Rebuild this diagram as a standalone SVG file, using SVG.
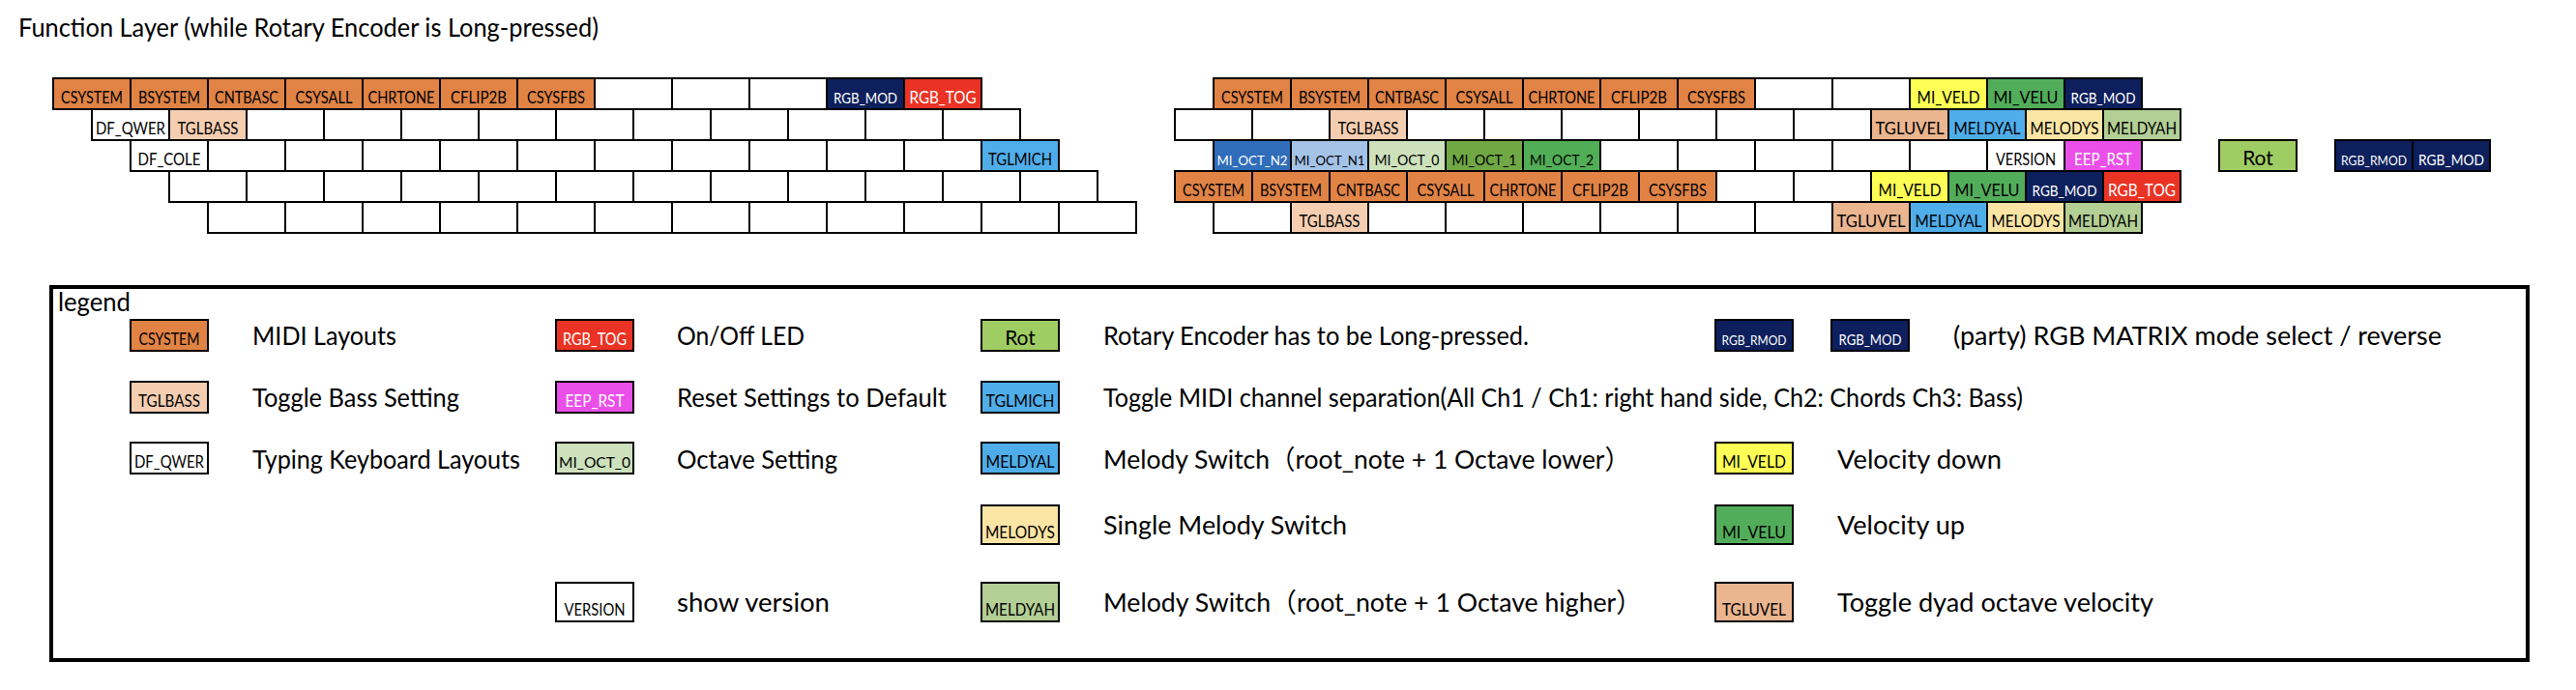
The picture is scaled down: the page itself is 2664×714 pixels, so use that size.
<svg xmlns="http://www.w3.org/2000/svg" xmlns:xlink="http://www.w3.org/1999/xlink" width="2664" height="714" viewBox="0 0 2664 714">
<style>
.k{stroke:#000;stroke-width:2}
.wh{fill:#fff}.or{fill:#E08345}.nv{fill:#0D1F5C}.rd{fill:#EA3324}.pc{fill:#F5CEB1}.bl{fill:#4FADEA}
.db{fill:#2F6DBA}.lb{fill:#A5C3E7}.lg{fill:#CDE1BC}.mg{fill:#70A845}.gg{fill:#52AE56}.ye{fill:#FFFF55}
.gr{fill:#52AD5B}.tn{fill:#EAB58F}.my{fill:#FBE5A5}.mh{fill:#B3CF95}.ep{fill:#EA4FEA}.ro{fill:#A0CD63}
text{font-family:Lato,"Noto Sans CJK JP",sans-serif;fill:#000}
.t{font-size:17.5px;text-anchor:middle}
.tn2{font-size:14px;text-anchor:middle}
.to{font-size:16px;text-anchor:middle}
.ts{font-size:15.5px;text-anchor:middle}
.tx{font-size:13.5px;text-anchor:middle}
.tr{font-size:21px;text-anchor:middle}
.w{fill:#fff}
.d{font-size:27.5px}
.frame{fill:none;stroke:#000;stroke-width:4}
</style>
<defs>
<rect id="kb" width="80" height="32" class="k wh"/>
</defs>
<rect width="2664" height="714" fill="#fff"/>
<text id="title" x="19" y="38" class="d" textLength="600" lengthAdjust="spacingAndGlyphs">Function Layer (while Rotary Encoder is Long-pressed)</text>

<g id="left-keyboard">
<g id="L1-1" transform="translate(55,81)"><rect class="k or" width="80" height="32"/><text class="t" x="40" y="25.5" textLength="64" lengthAdjust="spacingAndGlyphs">CSYSTEM</text></g>
<g id="L1-2" transform="translate(135,81)"><rect class="k or" width="80" height="32"/><text class="t" x="40" y="25.5" textLength="64" lengthAdjust="spacingAndGlyphs">BSYSTEM</text></g>
<g id="L1-3" transform="translate(215,81)"><rect class="k or" width="80" height="32"/><text class="t" x="40" y="25.5" textLength="66" lengthAdjust="spacingAndGlyphs">CNTBASC</text></g>
<g id="L1-4" transform="translate(295,81)"><rect class="k or" width="80" height="32"/><text class="t" x="40" y="25.5" textLength="59" lengthAdjust="spacingAndGlyphs">CSYSALL</text></g>
<g id="L1-5" transform="translate(375,81)"><rect class="k or" width="80" height="32"/><text class="t" x="40" y="25.5" textLength="69" lengthAdjust="spacingAndGlyphs">CHRTONE</text></g>
<g id="L1-6" transform="translate(455,81)"><rect class="k or" width="80" height="32"/><text class="t" x="40" y="25.5" textLength="58" lengthAdjust="spacingAndGlyphs">CFLIP2B</text></g>
<g id="L1-7" transform="translate(535,81)"><rect class="k or" width="80" height="32"/><text class="t" x="40" y="25.5" textLength="60" lengthAdjust="spacingAndGlyphs">CSYSFBS</text></g>
<use id="L1-8" xlink:href="#kb" x="615" y="81"/>
<use id="L1-9" xlink:href="#kb" x="695" y="81"/>
<use id="L1-10" xlink:href="#kb" x="775" y="81"/>
<g id="L1-11" transform="translate(855,81)"><rect class="k nv" width="80" height="32"/><text class="ts w" x="40" y="25.5" textLength="66" lengthAdjust="spacingAndGlyphs">RGB_MOD</text></g>
<g id="L1-12" transform="translate(935,81)"><rect class="k rd" width="80" height="32"/><text class="t w" x="40" y="25.5" textLength="69" lengthAdjust="spacingAndGlyphs">RGB_TOG</text></g>
<g id="L2-1" transform="translate(95,113)"><rect class="k wh" width="80" height="32"/><text class="t" x="40" y="25.5" textLength="72" lengthAdjust="spacingAndGlyphs">DF_QWER</text></g>
<g id="L2-2" transform="translate(175,113)"><rect class="k pc" width="80" height="32"/><text class="t" x="40" y="25.5" textLength="63" lengthAdjust="spacingAndGlyphs">TGLBASS</text></g>
<use id="L2-3" xlink:href="#kb" x="255" y="113"/>
<use id="L2-4" xlink:href="#kb" x="335" y="113"/>
<use id="L2-5" xlink:href="#kb" x="415" y="113"/>
<use id="L2-6" xlink:href="#kb" x="495" y="113"/>
<use id="L2-7" xlink:href="#kb" x="575" y="113"/>
<use id="L2-8" xlink:href="#kb" x="655" y="113"/>
<use id="L2-9" xlink:href="#kb" x="735" y="113"/>
<use id="L2-10" xlink:href="#kb" x="815" y="113"/>
<use id="L2-11" xlink:href="#kb" x="895" y="113"/>
<use id="L2-12" xlink:href="#kb" x="975" y="113"/>
<g id="L3-1" transform="translate(135,145)"><rect class="k wh" width="80" height="32"/><text class="t" x="40" y="25.5" textLength="65" lengthAdjust="spacingAndGlyphs">DF_COLE</text></g>
<use id="L3-2" xlink:href="#kb" x="215" y="145"/>
<use id="L3-3" xlink:href="#kb" x="295" y="145"/>
<use id="L3-4" xlink:href="#kb" x="375" y="145"/>
<use id="L3-5" xlink:href="#kb" x="455" y="145"/>
<use id="L3-6" xlink:href="#kb" x="535" y="145"/>
<use id="L3-7" xlink:href="#kb" x="615" y="145"/>
<use id="L3-8" xlink:href="#kb" x="695" y="145"/>
<use id="L3-9" xlink:href="#kb" x="775" y="145"/>
<use id="L3-10" xlink:href="#kb" x="855" y="145"/>
<use id="L3-11" xlink:href="#kb" x="935" y="145"/>
<g id="L3-12" transform="translate(1015,145)"><rect class="k bl" width="80" height="32"/><text class="t" x="40" y="25.5" textLength="66" lengthAdjust="spacingAndGlyphs">TGLMICH</text></g>
<use id="L4-1" xlink:href="#kb" x="175" y="177"/>
<use id="L4-2" xlink:href="#kb" x="255" y="177"/>
<use id="L4-3" xlink:href="#kb" x="335" y="177"/>
<use id="L4-4" xlink:href="#kb" x="415" y="177"/>
<use id="L4-5" xlink:href="#kb" x="495" y="177"/>
<use id="L4-6" xlink:href="#kb" x="575" y="177"/>
<use id="L4-7" xlink:href="#kb" x="655" y="177"/>
<use id="L4-8" xlink:href="#kb" x="735" y="177"/>
<use id="L4-9" xlink:href="#kb" x="815" y="177"/>
<use id="L4-10" xlink:href="#kb" x="895" y="177"/>
<use id="L4-11" xlink:href="#kb" x="975" y="177"/>
<use id="L4-12" xlink:href="#kb" x="1055" y="177"/>
<use id="L5-1" xlink:href="#kb" x="215" y="209"/>
<use id="L5-2" xlink:href="#kb" x="295" y="209"/>
<use id="L5-3" xlink:href="#kb" x="375" y="209"/>
<use id="L5-4" xlink:href="#kb" x="455" y="209"/>
<use id="L5-5" xlink:href="#kb" x="535" y="209"/>
<use id="L5-6" xlink:href="#kb" x="615" y="209"/>
<use id="L5-7" xlink:href="#kb" x="695" y="209"/>
<use id="L5-8" xlink:href="#kb" x="775" y="209"/>
<use id="L5-9" xlink:href="#kb" x="855" y="209"/>
<use id="L5-10" xlink:href="#kb" x="935" y="209"/>
<use id="L5-11" xlink:href="#kb" x="1015" y="209"/>
<use id="L5-12" xlink:href="#kb" x="1095" y="209"/>
</g>

<g id="right-keyboard">
<g id="R1-1" transform="translate(1255,81)"><rect class="k or" width="80" height="32"/><text class="t" x="40" y="25.5" textLength="64" lengthAdjust="spacingAndGlyphs">CSYSTEM</text></g>
<g id="R1-2" transform="translate(1335,81)"><rect class="k or" width="80" height="32"/><text class="t" x="40" y="25.5" textLength="64" lengthAdjust="spacingAndGlyphs">BSYSTEM</text></g>
<g id="R1-3" transform="translate(1415,81)"><rect class="k or" width="80" height="32"/><text class="t" x="40" y="25.5" textLength="66" lengthAdjust="spacingAndGlyphs">CNTBASC</text></g>
<g id="R1-4" transform="translate(1495,81)"><rect class="k or" width="80" height="32"/><text class="t" x="40" y="25.5" textLength="59" lengthAdjust="spacingAndGlyphs">CSYSALL</text></g>
<g id="R1-5" transform="translate(1575,81)"><rect class="k or" width="80" height="32"/><text class="t" x="40" y="25.5" textLength="69" lengthAdjust="spacingAndGlyphs">CHRTONE</text></g>
<g id="R1-6" transform="translate(1655,81)"><rect class="k or" width="80" height="32"/><text class="t" x="40" y="25.5" textLength="58" lengthAdjust="spacingAndGlyphs">CFLIP2B</text></g>
<g id="R1-7" transform="translate(1735,81)"><rect class="k or" width="80" height="32"/><text class="t" x="40" y="25.5" textLength="60" lengthAdjust="spacingAndGlyphs">CSYSFBS</text></g>
<use id="R1-8" xlink:href="#kb" x="1815" y="81"/>
<use id="R1-9" xlink:href="#kb" x="1895" y="81"/>
<g id="R1-10" transform="translate(1975,81)"><rect class="k ye" width="80" height="32"/><text class="t" x="40" y="25.5" textLength="65" lengthAdjust="spacingAndGlyphs">MI_VELD</text></g>
<g id="R1-11" transform="translate(2055,81)"><rect class="k gr" width="80" height="32"/><text class="t" x="40" y="25.5" textLength="67" lengthAdjust="spacingAndGlyphs">MI_VELU</text></g>
<g id="R1-12" transform="translate(2135,81)"><rect class="k nv" width="80" height="32"/><text class="ts w" x="40" y="25.5" textLength="67" lengthAdjust="spacingAndGlyphs">RGB_MOD</text></g>
<use id="R2-1" xlink:href="#kb" x="1215" y="113"/>
<use id="R2-2" xlink:href="#kb" x="1295" y="113"/>
<g id="R2-3" transform="translate(1375,113)"><rect class="k pc" width="80" height="32"/><text class="t" x="40" y="25.5" textLength="63" lengthAdjust="spacingAndGlyphs">TGLBASS</text></g>
<use id="R2-4" xlink:href="#kb" x="1455" y="113"/>
<use id="R2-5" xlink:href="#kb" x="1535" y="113"/>
<use id="R2-6" xlink:href="#kb" x="1615" y="113"/>
<use id="R2-7" xlink:href="#kb" x="1695" y="113"/>
<use id="R2-8" xlink:href="#kb" x="1775" y="113"/>
<use id="R2-9" xlink:href="#kb" x="1855" y="113"/>
<g id="R2-10" transform="translate(1935,113)"><rect class="k tn" width="80" height="32"/><text class="t" x="40" y="25.5" textLength="71" lengthAdjust="spacingAndGlyphs">TGLUVEL</text></g>
<g id="R2-11" transform="translate(2015,113)"><rect class="k bl" width="80" height="32"/><text class="t" x="40" y="25.5" textLength="69" lengthAdjust="spacingAndGlyphs">MELDYAL</text></g>
<g id="R2-12" transform="translate(2095,113)"><rect class="k my" width="80" height="32"/><text class="t" x="40" y="25.5" textLength="71" lengthAdjust="spacingAndGlyphs">MELODYS</text></g>
<g id="R2-13" transform="translate(2175,113)"><rect class="k mh" width="80" height="32"/><text class="t" x="40" y="25.5" textLength="72" lengthAdjust="spacingAndGlyphs">MELDYAH</text></g>
<g id="R3-1" transform="translate(1255,145)"><rect class="k db" width="80" height="32"/><text class="tn2 w" x="40" y="25.5" textLength="73" lengthAdjust="spacingAndGlyphs">MI_OCT_N2</text></g>
<g id="R3-2" transform="translate(1335,145)"><rect class="k lb" width="80" height="32"/><text class="tn2" x="40" y="25.5" textLength="73" lengthAdjust="spacingAndGlyphs">MI_OCT_N1</text></g>
<g id="R3-3" transform="translate(1415,145)"><rect class="k lg" width="80" height="32"/><text class="to" x="40" y="25.5" textLength="67" lengthAdjust="spacingAndGlyphs">MI_OCT_0</text></g>
<g id="R3-4" transform="translate(1495,145)"><rect class="k mg" width="80" height="32"/><text class="to" x="40" y="25.5" textLength="67" lengthAdjust="spacingAndGlyphs">MI_OCT_1</text></g>
<g id="R3-5" transform="translate(1575,145)"><rect class="k gg" width="80" height="32"/><text class="to" x="40" y="25.5" textLength="66" lengthAdjust="spacingAndGlyphs">MI_OCT_2</text></g>
<use id="R3-6" xlink:href="#kb" x="1655" y="145"/>
<use id="R3-7" xlink:href="#kb" x="1735" y="145"/>
<use id="R3-8" xlink:href="#kb" x="1815" y="145"/>
<use id="R3-9" xlink:href="#kb" x="1895" y="145"/>
<use id="R3-10" xlink:href="#kb" x="1975" y="145"/>
<g id="R3-11" transform="translate(2055,145)"><rect class="k wh" width="80" height="32"/><text class="t" x="40" y="25.5" textLength="62" lengthAdjust="spacingAndGlyphs">VERSION</text></g>
<g id="R3-12" transform="translate(2135,145)"><rect class="k ep" width="80" height="32"/><text class="t w" x="40" y="25.5" textLength="60" lengthAdjust="spacingAndGlyphs">EEP_RST</text></g>
<g id="R4-1" transform="translate(1215,177)"><rect class="k or" width="80" height="32"/><text class="t" x="40" y="25.5" textLength="64" lengthAdjust="spacingAndGlyphs">CSYSTEM</text></g>
<g id="R4-2" transform="translate(1295,177)"><rect class="k or" width="80" height="32"/><text class="t" x="40" y="25.5" textLength="64" lengthAdjust="spacingAndGlyphs">BSYSTEM</text></g>
<g id="R4-3" transform="translate(1375,177)"><rect class="k or" width="80" height="32"/><text class="t" x="40" y="25.5" textLength="66" lengthAdjust="spacingAndGlyphs">CNTBASC</text></g>
<g id="R4-4" transform="translate(1455,177)"><rect class="k or" width="80" height="32"/><text class="t" x="40" y="25.5" textLength="59" lengthAdjust="spacingAndGlyphs">CSYSALL</text></g>
<g id="R4-5" transform="translate(1535,177)"><rect class="k or" width="80" height="32"/><text class="t" x="40" y="25.5" textLength="69" lengthAdjust="spacingAndGlyphs">CHRTONE</text></g>
<g id="R4-6" transform="translate(1615,177)"><rect class="k or" width="80" height="32"/><text class="t" x="40" y="25.5" textLength="58" lengthAdjust="spacingAndGlyphs">CFLIP2B</text></g>
<g id="R4-7" transform="translate(1695,177)"><rect class="k or" width="80" height="32"/><text class="t" x="40" y="25.5" textLength="60" lengthAdjust="spacingAndGlyphs">CSYSFBS</text></g>
<use id="R4-8" xlink:href="#kb" x="1775" y="177"/>
<use id="R4-9" xlink:href="#kb" x="1855" y="177"/>
<g id="R4-10" transform="translate(1935,177)"><rect class="k ye" width="80" height="32"/><text class="t" x="40" y="25.5" textLength="65" lengthAdjust="spacingAndGlyphs">MI_VELD</text></g>
<g id="R4-11" transform="translate(2015,177)"><rect class="k gr" width="80" height="32"/><text class="t" x="40" y="25.5" textLength="67" lengthAdjust="spacingAndGlyphs">MI_VELU</text></g>
<g id="R4-12" transform="translate(2095,177)"><rect class="k nv" width="80" height="32"/><text class="ts w" x="40" y="25.5" textLength="67" lengthAdjust="spacingAndGlyphs">RGB_MOD</text></g>
<g id="R4-13" transform="translate(2175,177)"><rect class="k rd" width="80" height="32"/><text class="t w" x="40" y="25.5" textLength="70" lengthAdjust="spacingAndGlyphs">RGB_TOG</text></g>
<use id="R5-1" xlink:href="#kb" x="1255" y="209"/>
<g id="R5-2" transform="translate(1335,209)"><rect class="k pc" width="80" height="32"/><text class="t" x="40" y="25.5" textLength="63" lengthAdjust="spacingAndGlyphs">TGLBASS</text></g>
<use id="R5-3" xlink:href="#kb" x="1415" y="209"/>
<use id="R5-4" xlink:href="#kb" x="1495" y="209"/>
<use id="R5-5" xlink:href="#kb" x="1575" y="209"/>
<use id="R5-6" xlink:href="#kb" x="1655" y="209"/>
<use id="R5-7" xlink:href="#kb" x="1735" y="209"/>
<use id="R5-8" xlink:href="#kb" x="1815" y="209"/>
<g id="R5-9" transform="translate(1895,209)"><rect class="k tn" width="80" height="32"/><text class="t" x="40" y="25.5" textLength="71" lengthAdjust="spacingAndGlyphs">TGLUVEL</text></g>
<g id="R5-10" transform="translate(1975,209)"><rect class="k bl" width="80" height="32"/><text class="t" x="40" y="25.5" textLength="69" lengthAdjust="spacingAndGlyphs">MELDYAL</text></g>
<g id="R5-11" transform="translate(2055,209)"><rect class="k my" width="80" height="32"/><text class="t" x="40" y="25.5" textLength="71" lengthAdjust="spacingAndGlyphs">MELODYS</text></g>
<g id="R5-12" transform="translate(2135,209)"><rect class="k mh" width="80" height="32"/><text class="t" x="40" y="25.5" textLength="72" lengthAdjust="spacingAndGlyphs">MELDYAH</text></g>
</g>

<g id="rot-key" transform="translate(2295,145)"><rect class="k ro" width="80" height="32"/><text class="tr" x="40" y="25.5">Rot</text></g>
<g id="rgb-keys">
<g id="K-RGB_RMOD" transform="translate(2415,145)"><rect class="k nv" width="80" height="32"/><text class="tx w" x="40" y="25.5" textLength="68" lengthAdjust="spacingAndGlyphs">RGB_RMOD</text></g>
<g id="K-RGB_MOD" transform="translate(2495,145)"><rect class="k nv" width="80" height="32"/><text class="ts w" x="40" y="25.5" textLength="68" lengthAdjust="spacingAndGlyphs">RGB_MOD</text></g>
</g>

<g id="connectors"></g>

<g id="legend">
<rect class="frame" x="53" y="297" width="2561" height="386"/>
<text x="60" y="322" class="d" textLength="75" lengthAdjust="spacingAndGlyphs">legend</text>

<g id="lg-csystem"><rect class="k or" x="135" y="331" width="80" height="32"/><text class="t" x="175" y="356.5" textLength="63" lengthAdjust="spacingAndGlyphs">CSYSTEM</text><text class="d" x="261" y="357" textLength="149" lengthAdjust="spacingAndGlyphs">MIDI Layouts</text></g>
<g id="lg-tglbass"><rect class="k pc" x="135" y="395" width="80" height="32"/><text class="t" x="175" y="420.5" textLength="64" lengthAdjust="spacingAndGlyphs">TGLBASS</text><text class="d" x="261" y="421" textLength="214" lengthAdjust="spacingAndGlyphs">Toggle Bass Setting</text></g>
<g id="lg-dfqwer"><rect class="k wh" x="135" y="458" width="80" height="32"/><text class="t" x="175" y="483.5" textLength="72" lengthAdjust="spacingAndGlyphs">DF_QWER</text><text class="d" x="261" y="485" textLength="277" lengthAdjust="spacingAndGlyphs">Typing Keyboard Layouts</text></g>

<g id="lg-rgbtog"><rect class="k rd" x="575" y="331" width="80" height="32"/><text class="t w" x="615" y="356.5" textLength="66" lengthAdjust="spacingAndGlyphs">RGB_TOG</text><text class="d" x="700" y="357" textLength="132" lengthAdjust="spacingAndGlyphs">On/Off LED</text></g>
<g id="lg-eeprst"><rect class="k ep" x="575" y="395" width="80" height="32"/><text class="t w" x="615" y="420.5" textLength="61" lengthAdjust="spacingAndGlyphs">EEP_RST</text><text class="d" x="700" y="421" textLength="279" lengthAdjust="spacingAndGlyphs">Reset Settings to Default</text></g>
<g id="lg-mioct0"><rect class="k lg" x="575" y="458" width="80" height="32"/><text class="to" x="615" y="483.5" textLength="74" lengthAdjust="spacingAndGlyphs">MI_OCT_0</text><text class="d" x="700" y="485" textLength="166" lengthAdjust="spacingAndGlyphs">Octave Setting</text></g>
<g id="lg-version"><rect class="k wh" x="575" y="603" width="80" height="40"/><text class="t" x="615" y="636.5" textLength="63" lengthAdjust="spacingAndGlyphs">VERSION</text><text class="d" x="700" y="633" textLength="158" lengthAdjust="spacingAndGlyphs">show version</text></g>

<g id="lg-rot"><rect class="k ro" x="1015" y="331" width="80" height="32"/><text class="tr" x="1055" y="356.5">Rot</text><text class="d" x="1141" y="357" textLength="440" lengthAdjust="spacingAndGlyphs">Rotary Encoder has to be Long-pressed.</text></g>
<g id="lg-tglmich"><rect class="k bl" x="1015" y="395" width="80" height="32"/><text class="t" x="1055" y="420.5" textLength="71" lengthAdjust="spacingAndGlyphs">TGLMICH</text><text class="d" x="1141" y="421" textLength="951" lengthAdjust="spacingAndGlyphs">Toggle MIDI channel separation(All Ch1 / Ch1: right hand side, Ch2: Chords Ch3: Bass)</text></g>
<g id="lg-meldyal"><rect class="k bl" x="1015" y="458" width="80" height="32"/><text class="t" x="1055" y="483.5" textLength="71" lengthAdjust="spacingAndGlyphs">MELDYAL</text><text class="d" x="1141" y="485" textLength="545" lengthAdjust="spacingAndGlyphs">Melody Switch（root_note + 1 Octave lower）</text></g>
<g id="lg-melodys"><rect class="k my" x="1015" y="523" width="80" height="40"/><text class="t" x="1055" y="556.5" textLength="72" lengthAdjust="spacingAndGlyphs">MELODYS</text><text class="d" x="1141" y="553" textLength="252" lengthAdjust="spacingAndGlyphs">Single Melody Switch</text></g>
<g id="lg-meldyah"><rect class="k mh" x="1015" y="603" width="80" height="40"/><text class="t" x="1055" y="636.5" textLength="72" lengthAdjust="spacingAndGlyphs">MELDYAH</text><text class="d" x="1141" y="633" textLength="557" lengthAdjust="spacingAndGlyphs">Melody Switch（root_note + 1 Octave higher）</text></g>

<g id="lg-rgbmod"><rect class="k nv" x="1774" y="331" width="80" height="32"/><text class="tx w" x="1814" y="356.5" textLength="67" lengthAdjust="spacingAndGlyphs">RGB_RMOD</text><rect class="k nv" x="1894" y="331" width="80" height="32"/><text class="ts w" x="1934" y="356.5" textLength="65" lengthAdjust="spacingAndGlyphs">RGB_MOD</text><text class="d" x="2020" y="357" textLength="505" lengthAdjust="spacingAndGlyphs">(party) RGB MATRIX mode select / reverse</text></g>
<g id="lg-miveld"><rect class="k ye" x="1774" y="458" width="80" height="32"/><text class="t" x="1814" y="483.5" textLength="66" lengthAdjust="spacingAndGlyphs">MI_VELD</text><text class="d" x="1900" y="485" textLength="170" lengthAdjust="spacingAndGlyphs">Velocity down</text></g>
<g id="lg-mivelu"><rect class="k gr" x="1774" y="523" width="80" height="40"/><text class="t" x="1814" y="556.5" textLength="66" lengthAdjust="spacingAndGlyphs">MI_VELU</text><text class="d" x="1900" y="553" textLength="132" lengthAdjust="spacingAndGlyphs">Velocity up</text></g>
<g id="lg-tgluvel"><rect class="k tn" x="1774" y="603" width="80" height="40"/><text class="t" x="1814" y="636.5" textLength="66" lengthAdjust="spacingAndGlyphs">TGLUVEL</text><text class="d" x="1900" y="633" textLength="327" lengthAdjust="spacingAndGlyphs">Toggle dyad octave velocity</text></g>
</g>
</svg>
